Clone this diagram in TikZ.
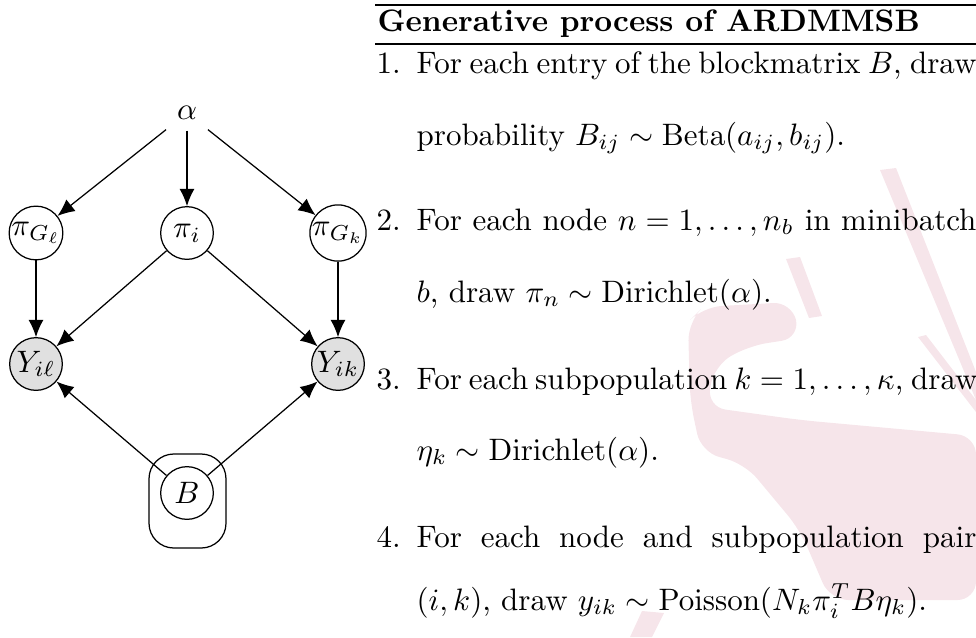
\documentclass[tikz,border=0pt]{standalone}
\usetikzlibrary{arrows.meta,calc}
\definecolor{wm}{RGB}{246,229,234}
\definecolor{obs}{RGB}{224,224,224}
\begin{document}
\begin{tikzpicture}[x=0.3226pt,y=-0.3226pt,
  lat/.style={circle,draw,minimum size=17pt,inner sep=0pt,line width=0.4pt},
  obsv/.style={lat,fill=obs},
  edge/.style={-{Latex[length=5.5pt,width=4.8pt]},line width=0.4pt},
  txt/.style={anchor=base west,inner sep=0pt},
  wmark/.style={fill=wm,draw=none,rounded corners=6pt},
]
\useasboundingbox (0,0) rectangle (976,637);
% watermark
\fill[wmark] (688,322) -- (703,307) -- (792,302) -- (800,338) -- (748,346) -- (714,366) -- (707,407) -- (800,420) -- (976,436) -- (976,600) -- (830,600) -- (800,530) -- (745,464) -- (701,452) -- (690,400) -- cycle;
\fill[wm] (880,170) -- (896,168) -- (976,372) -- (976,400) -- cycle;
\fill[wm] (786,259) -- (800,257) -- (822,316) -- (809,318) -- cycle;
\fill[wm] (918,337) -- (926,335) -- (976,400) -- (976,412) -- cycle;
\fill[wm] (630,637) -- (642,611) -- (664,613) -- (652,637) -- cycle;
% graph
\node (alpha) at (187,113) {$\alpha$};
\node[lat] (pgl) at (36,233) {$\pi_{G_\ell}$};
\node[lat] (pi) at (187,233) {$\pi_i$};
\node[lat] (pgk) at (338,233) {$\pi_{G_k}$};
\node[obsv] (yil) at (36,364) {$Y_{i\ell}$};
\node[obsv] (yik) at (338,364) {$Y_{ik}$};
\node[lat] (B) at (187,493) {$B$};
\draw[rounded corners=8pt,line width=0.4pt] ($(B)+(-38,-39)$) rectangle ($(B)+(39,55)$);
\draw[edge] (alpha) -- (pgl);
\draw[edge] (alpha) -- (pi);
\draw[edge] (alpha) -- (pgk);
\draw[edge] (pgl) -- (yil);
\draw[edge] (pi) -- (yil);
\draw[edge] (pi) -- (yik);
\draw[edge] (pgk) -- (yik);
\draw[edge] (B) -- (yil);
\draw[edge] (B) -- (yik);
% text
\coordinate (r1a) at (375,5); \coordinate (r1b) at (976,5);
\coordinate (r2a) at (375,44); \coordinate (r2b) at (976,44);
\draw[line width=0.6pt] (r1a) -- (r1b);
\draw[line width=0.4pt] (r2a) -- (r2b);
\node[txt] (title) at (377,31) {\bfseries Generative process of ARDMMSB};
\node[txt] (n1) at (376,73) {1.};
\node[txt] (l1a) at (416,73) {\makebox[180.6pt][s]{For each entry of the blockmatrix $B$, draw}};
\node[txt] (l1b) at (416,145) {probability $B_{ij}\sim\mathrm{Beta}(a_{ij},b_{ij})$.};
\node[txt] (n2) at (376,230) {2.};
\node[txt] (l2a) at (416,230) {\makebox[180.6pt][s]{For each node $n=1,\ldots,n_b$ in minibatch}};
\node[txt] (l2b) at (416,302) {$b$, draw $\pi_n\sim\mathrm{Dirichlet}(\alpha)$.};
\node[txt] (n3) at (376,389) {3.};
\node[txt] (l3a) at (416,389) {\makebox[180.6pt][s]{For each subpopulation $k=1,\ldots,\kappa$, draw}};
\node[txt] (l3b) at (416,460) {$\eta_k\sim\mathrm{Dirichlet}(\alpha)$.};
\node[txt] (n4) at (376,547) {4.};
\node[txt] (l4a) at (416,547) {\makebox[180.6pt][s]{For each node and subpopulation pair}};
\node[txt] (l4b) at (416,610) {$(i,k)$, draw $y_{ik}\sim\mathrm{Poisson}(N_k\pi_i^TB\eta_k)$.};
\end{tikzpicture}
\end{document}
